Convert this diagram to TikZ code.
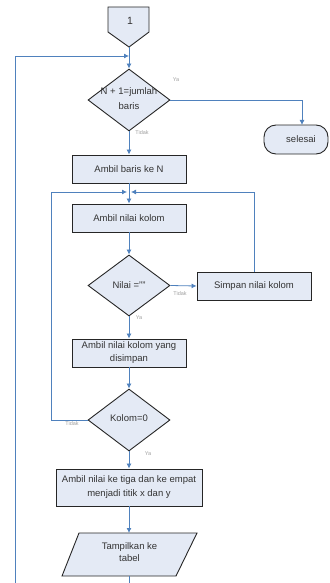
\documentclass[tikz,border=0pt]{standalone}
\usepackage{fontspec}
\setmainfont{Liberation Sans}
\usetikzlibrary{shapes.geometric,arrows.meta}
\definecolor{boxfill}{HTML}{E4EAF5}
\definecolor{boxline}{HTML}{262626}
\definecolor{conn}{HTML}{4F81BD}
\definecolor{txt}{HTML}{333333}
\definecolor{lbl}{HTML}{A0A0A0}
\tikzset{
  procbox/.style={draw=boxline,fill=boxfill,line width=0.9pt,minimum width=114pt,minimum height=28pt,inner sep=1pt,align=center,text=txt,font=\fontsize{9.5}{12}\selectfont},
  decbox/.style={diamond,draw=boxline,fill=boxfill,line width=0.9pt,minimum width=82pt,minimum height=62pt,inner sep=0pt},
  shapeln/.style={draw=boxline,fill=boxfill,line width=0.9pt},
  arr/.style={draw=conn,line width=0.8pt,-{Latex[length=5pt,width=5pt]}},
  ln/.style={draw=conn,line width=0.8pt},
  yn/.style={text=lbl,font=\fontsize{5.5}{6}\selectfont,inner sep=0pt},
  plain/.style={text=txt,font=\fontsize{9.5}{12}\selectfont,inner sep=0pt,align=center}
}
\begin{document}
\begin{tikzpicture}[x=1pt,y=-1pt]
\useasboundingbox (0,0) rectangle (329,583);
% off-page connector
\draw[shapeln] (108,7) -- (149,7) -- (149,32) -- (129,47) -- (108,32) -- cycle;
\node[plain,font=\fontsize{10.5}{12}\selectfont] (c1) at (130,21) {1};
\coordinate (c1b) at (129,47);
% decision 1
\node[decbox] (d1) at (129,100) {};
\node[plain,font=\fontsize{9.5}{15}\selectfont] (d1t) at (129,99) {N + 1=jumlah\\baris};
% end terminator
\draw[shapeln,rounded corners=12pt] (264,125) rectangle (328,154);
\node[plain] (sel) at (301,139) {selesai};
\coordinate (selN) at (302,125);
% processes
\node[procbox] (b1) at (129,169) {Ambil baris ke N};
\node[procbox] (b2) at (129,218) {Ambil nilai kolom};
\node[decbox,minimum height=61pt] (d2) at (129,285.5) {};
\node[plain] (d2t) at (129,285) {Nilai =""};
\node[procbox] (simp) at (254,286) {Simpan nilai kolom};
\node[procbox,font=\fontsize{9.5}{13}\selectfont] (b3) at (129,353) {Ambil nilai kolom yang\\disimpan\vphantom{g}};
\node[decbox] (d3) at (129,420) {};
\node[plain] (d3t) at (129,418) {Kolom=0};
\node[procbox,minimum width=146pt,minimum height=37pt,font=\fontsize{9.5}{14}\selectfont] (b4) at (129,487.5) {Ambil nilai ke tiga dan ke empat\\menjadi titik x dan y};
% parallelogram
\draw[shapeln] (79,533) -- (197,533) -- (176,576) -- (62,576) -- cycle;
\node[plain] (para) at (129.5,552) {Tampilkan ke\\tabel};
\coordinate (paraS) at (129,576);
% junction coordinates
\coordinate (top) at (129,56);
\coordinate (loopL) at (15,583);
\coordinate (jL) at (127,192);
\coordinate (jR) at (131,192);
\coordinate (bot) at (129,583);
% connectors
\draw[arr] (c1b) -- (d1.north);
\draw[arr] (loopL) |- (top);
\draw[arr] (d1.east) -| (selN);
\draw[arr] (d1.south) -- (b1.north);
\draw[arr] (b1.south) -- (b2.north);
\draw[arr] (b2.south) -- (d2.north);
\draw[arr] (d2.east) -- (simp.west);
\draw[arr] (simp.north) |- (jR);
\draw[arr] (d2.south) -- (b3.north);
\draw[arr] (b3.south) -- (d3.north);
\draw[arr] (d3.west) -- (51,420) |- (jL);
\draw[arr] (d3.south) -- (b4.north);
\draw[arr] (b4.south) -- (129,533);
\draw[ln] (paraS) -- (bot);
% yes / no labels
\node[yn] (l1) at (176,80) {Ya};
\node[yn] (l2) at (142,133) {Tidak};
\node[yn] (l3) at (180,294) {Tidak};
\node[yn] (l4) at (139,318) {Ya};
\node[yn] (l5) at (72,424) {Tidak};
\node[yn] (l6) at (148,454) {Ya};
\end{tikzpicture}
\end{document}
